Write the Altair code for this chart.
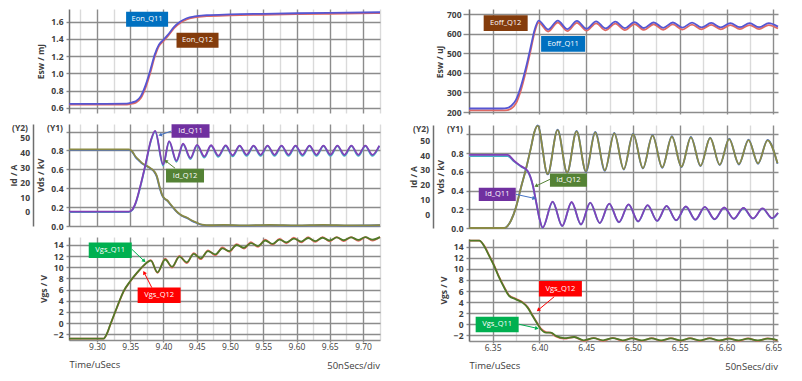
import math
import altair as alt
import pandas as pd

# ---------------- tick values ----------------
LEFT_TICKS = [9.275, 9.3, 9.325, 9.35, 9.375, 9.4, 9.425, 9.45, 9.475, 9.5, 9.525,
              9.55, 9.575, 9.6, 9.625, 9.65, 9.675, 9.7, 9.725]
RIGHT_TICKS = [6.325, 6.35, 6.375, 6.4, 6.425, 6.45, 6.475, 6.5, 6.525, 6.55, 6.575,
               6.6, 6.625, 6.65]
ESW_ON_TICKS = [0.6, 0.8, 1.0, 1.2, 1.4, 1.6]
ESW_OFF_TICKS = [200, 300, 400, 500, 600, 700]
VDS_TICKS = [0.0, 0.2, 0.4, 0.6, 0.8, 1.0]
ID_TICKS = [0, 10, 20, 30, 40, 50]
VGS_TICKS = [-2, 0, 2, 4, 6, 8, 10, 12, 14]

# ---------------- left: turn-on ----------------
EON_T = [9.258, 9.300, 9.345, 9.352, 9.359, 9.366, 9.373, 9.380, 9.387, 9.393, 9.400,
         9.408, 9.416, 9.425, 9.435, 9.447, 9.465, 9.500, 9.550, 9.600, 9.650, 9.7255]
EON_Q11 = [0.645, 0.645, 0.648, 0.660, 0.678, 0.735, 0.860, 1.030, 1.220, 1.330, 1.390,
           1.460, 1.540, 1.600, 1.640, 1.662, 1.675, 1.685, 1.692, 1.698, 1.703, 1.710]
EON_Q12 = [0.635, 0.635, 0.637, 0.646, 0.662, 0.712, 0.830, 1.000, 1.195, 1.315, 1.375,
           1.445, 1.525, 1.585, 1.627, 1.650, 1.664, 1.674, 1.681, 1.687, 1.692, 1.700]

VDS_L_T = [9.258, 9.348, 9.353, 9.358, 9.363, 9.368, 9.374, 9.381, 9.386, 9.390, 9.394,
           9.398, 9.402, 9.406, 9.410, 9.416, 9.422, 9.428, 9.435, 9.442, 9.450, 9.458,
           9.470, 9.490, 9.520, 9.560, 9.600, 9.640, 9.680, 9.7255]
VDS_L_Q11 = [0.810, 0.810, 0.790, 0.735, 0.700, 0.665, 0.640, 0.610, 0.580, 0.530, 0.420,
             0.330, 0.290, 0.270, 0.235, 0.185, 0.140, 0.110, 0.090, 0.060, 0.035, 0.015,
             0.008, 0.012, 0.006, 0.011, 0.006, 0.011, 0.006, 0.010]
VDS_L_Q12 = [0.805, 0.805, 0.785, 0.728, 0.693, 0.660, 0.636, 0.606, 0.574, 0.520, 0.410,
             0.324, 0.286, 0.265, 0.230, 0.180, 0.136, 0.106, 0.086, 0.057, 0.032, 0.013,
             0.006, 0.010, 0.004, 0.009, 0.004, 0.009, 0.004, 0.008]

ID_L_T = [9.258, 9.348, 9.353, 9.358, 9.366, 9.3735, 9.381, 9.3875,
          9.3995, 9.4085, 9.4195, 9.4295, 9.4405, 9.4505, 9.4615, 9.4715, 9.4825, 9.4935,
          9.5040, 9.5145, 9.5250, 9.5355, 9.5460, 9.5565, 9.5670, 9.5775, 9.5880, 9.5985,
          9.6090, 9.6195, 9.6300, 9.6405, 9.6510, 9.6615, 9.6720, 9.6825, 9.6930, 9.7035,
          9.7140, 9.7245]
ID_L_Q11 = [0.2, 0.2, 1.5, 6.0, 18.8, 33.0, 48.0, 54.5,
            32.0, 47.5, 34.5, 45.8, 36.3, 45.0, 37.3, 44.8, 37.8, 44.7,
            38.1, 44.6, 38.4, 44.6, 38.4, 44.6, 38.4, 44.6, 38.4, 44.6,
            38.4, 44.6, 38.4, 44.6, 38.4, 44.6, 38.4, 44.6, 38.4, 44.6,
            38.4, 44.6]
ID_L_Q12 = [0.0, 0.0, 1.2, 5.6, 18.3, 32.5, 47.5, 54.0,
            31.2, 47.1, 33.7, 45.4, 35.5, 44.6, 36.5, 44.4, 37.0, 44.3,
            37.3, 44.2, 37.6, 44.2, 37.6, 44.2, 37.6, 44.2, 37.6, 44.2,
            37.6, 44.2, 37.6, 44.2, 37.6, 44.2, 37.6, 44.2, 37.6, 44.2,
            37.6, 44.2]

VGS_L_T = [9.258, 9.310, 9.315, 9.320, 9.330, 9.340, 9.350, 9.360, 9.370,
           9.381, 9.391, 9.4025, 9.413, 9.424, 9.435, 9.4455, 9.456, 9.467, 9.478,
           9.4885, 9.499, 9.510, 9.521, 9.5315, 9.542, 9.553, 9.564, 9.5745, 9.585,
           9.596, 9.607, 9.6175, 9.628, 9.639, 9.650, 9.6605, 9.671, 9.682, 9.693,
           9.7035, 9.714, 9.7255]
VGS_L_Q11 = [-2.78, -2.78, -1.9, -0.3, 2.8, 5.7, 7.5, 9.0, 10.3,
             11.2, 9.1, 11.4, 10.1, 11.9, 10.9, 12.4, 11.6, 12.9, 12.3,
             13.4, 12.9, 14.0, 13.5, 14.35, 13.8, 14.8, 14.2, 14.95, 14.45,
             15.15, 14.6, 15.25, 14.7, 15.3, 14.8, 15.35, 14.85, 15.38, 14.9,
             15.4, 14.95, 15.4]
VGS_L_Q12 = [-2.8, -2.8, -1.95, -0.35, 2.75, 5.65, 7.45, 8.95, 10.25,
             11.3, 9.0, 11.55, 9.95, 12.05, 10.75, 12.55, 11.45, 13.05, 12.15,
             13.55, 12.75, 14.15, 13.35, 14.5, 13.65, 14.95, 14.05, 15.1, 14.3,
             15.3, 14.45, 15.4, 14.55, 15.4, 14.65, 15.42, 14.7, 15.42, 14.75,
             15.42, 14.8, 15.42]

# ---------------- right: turn-off ----------------
EOFF_T = [6.3247, 6.360, 6.366, 6.370, 6.3749, 6.3802, 6.3856, 6.391, 6.3945, 6.3991,
          6.4093, 6.4196, 6.4298, 6.4401, 6.4503, 6.4606, 6.4708, 6.4811, 6.4913, 6.5016,
          6.5118, 6.5221, 6.5323, 6.5426, 6.5528, 6.5631, 6.5733, 6.5836, 6.5938, 6.6041,
          6.6143, 6.6246, 6.6348, 6.6451, 6.655]
EOFF_Q11 = [218, 218, 221, 232, 262, 332, 428, 540, 615, 668,
            622, 668, 624, 666, 626, 664, 628, 662, 629, 660,
            630, 659, 631, 658, 632, 657, 633, 656, 633, 655,
            634, 655, 634, 655, 637]
EOFF_Q12 = [208, 208, 210, 218, 244, 312, 410, 524, 602, 658,
            612, 658, 614, 656, 616, 654, 618, 652, 619, 650,
            620, 649, 621, 648, 622, 647, 623, 646, 623, 645,
            624, 645, 624, 645, 627]

VDS_R_T = [6.3247, 6.3624, 6.3696, 6.3749, 6.3802, 6.3856, 6.391, 6.3945, 6.3981,
           6.4088, 6.4194, 6.4296, 6.4397, 6.4497, 6.4597, 6.4699, 6.4800, 6.4901, 6.5002,
           6.5106, 6.5209, 6.5313, 6.5416, 6.5518, 6.5619, 6.5722, 6.5825, 6.5927, 6.6028,
           6.6132, 6.6235, 6.6337, 6.6438, 6.6545]
VDS_R_Q11 = [0.0, 0.0, 0.08, 0.22, 0.43, 0.63, 0.86, 1.02, 1.09,
             0.576, 1.045, 0.593, 1.031, 0.604, 1.020, 0.615, 1.009, 0.629, 1.002,
             0.640, 0.985, 0.647, 0.974, 0.654, 0.967, 0.665, 0.960, 0.675, 0.949,
             0.682, 0.938, 0.690, 0.935, 0.690]
VDS_R_Q12 = [0.0, 0.0, 0.08, 0.22, 0.43, 0.63, 0.86, 1.02, 1.095,
             0.571, 1.050, 0.588, 1.036, 0.599, 1.025, 0.610, 1.014, 0.624, 1.007,
             0.635, 0.990, 0.642, 0.979, 0.649, 0.972, 0.660, 0.965, 0.670, 0.954,
             0.677, 0.943, 0.685, 0.940, 0.685]

ID_R_T = [6.3247, 6.366, 6.3731, 6.3802, 6.3874, 6.3927, 6.3963, 6.3998,
          6.4034, 6.4141, 6.4243, 6.4344, 6.4444, 6.4543, 6.4645, 6.4746, 6.4850, 6.4953,
          6.5055, 6.5156, 6.5258, 6.5359, 6.5462, 6.5565, 6.5667, 6.5768, 6.5872, 6.5975,
          6.6078, 6.6181, 6.6283, 6.6384, 6.6488, 6.655]
ID_R_Q11 = [40.1, 40.1, 36.0, 32.6, 29.3, 20.3, 9.0, -2.3,
            -9.0, 8.5, -7.9, 8.3, -6.8, 7.9, -5.9, 7.2, -5.3, 6.7,
            -4.8, 6.2, -4.4, 5.7, -4.0, 5.3, -3.6, 5.0, -3.3, 4.6,
            -3.0, 4.3, -2.8, 4.0, -2.6, 1.0]
ID_R_Q12 = [39.3, 39.3, 35.6, 32.3, 29.0, 20.0, 8.8, -2.4,
            -9.1, 8.3, -8.0, 8.1, -6.9, 7.7, -6.0, 7.0, -5.4, 6.5,
            -4.9, 6.0, -4.5, 5.5, -4.1, 5.1, -3.7, 4.8, -3.4, 4.4,
            -3.1, 4.1, -2.9, 3.8, -2.7, 0.8]

VGS_R_T = [6.3247, 6.3357, 6.341, 6.3464, 6.3517, 6.357, 6.3624, 6.3677, 6.3749, 6.382,
           6.3874, 6.3927, 6.3981, 6.4016, 6.4069, 6.4123, 6.4176, 6.4265, 6.4372,
           6.4475, 6.458, 6.468, 6.4785, 6.489, 6.499, 6.5095, 6.52, 6.530, 6.5405,
           6.551, 6.561, 6.5715, 6.582, 6.592, 6.6025, 6.613, 6.623, 6.6335, 6.644, 6.6545]
VGS_R_Q11 = [15.1, 15.1, 14.1, 12.3, 10.5, 8.4, 6.6, 5.1, 4.5, 3.9,
             3.0, 1.5, 0.0, -0.9, -1.5, -1.5, -2.1, -2.5, -2.3,
             -2.9, -2.5, -2.9, -2.5, -2.9, -2.55, -2.9, -2.55, -2.9, -2.55,
             -2.9, -2.55, -2.9, -2.55, -2.9, -2.6, -2.9, -2.6, -2.9, -2.6, -2.85]
VGS_R_Q12 = [15.1, 15.1, 14.15, 12.4, 10.6, 8.5, 6.7, 5.2, 4.6, 4.0,
             3.1, 1.6, 0.1, -0.8, -1.4, -1.55, -2.2, -2.6, -2.3,
             -3.0, -2.45, -3.0, -2.45, -3.0, -2.5, -3.0, -2.5, -3.0, -2.5,
             -3.0, -2.5, -3.0, -2.5, -3.0, -2.55, -3.0, -2.55, -3.0, -2.55, -2.95]

# ---------------- annotation labels ----------------
LT_NAMES = ["Eon_Q11", "Eon_Q12"]
LT_T = [9.3754, 9.4512]
LT_V = [1.628, 1.385]
LT_FILL = ["#0070c0", "#843c0c"]

LM_NAMES = ["Id_Q11", "Id_Q12"]
LM_T = [9.4407, 9.4324]
LM_V = [1.005, 0.534]
LM_FILL = ["#7030a0", "#548235"]
LM_AR = dict(t1=[9.412, 9.4175], v1=[1.005, 0.611], t2=[9.395, 9.4035], v2=[0.963, 0.688],
             c=["#4472c4", "#548235"])

LB_NAMES = ["Vgs_Q11", "Vgs_Q12"]
LB_T = [9.320, 9.3935]
LB_V = [13.07, 5.0]
LB_FILL = ["#00b050", "#ff0000"]
LB_AR = dict(t1=[9.3525, 9.3825], v1=[13.23, 6.35], t2=[9.371, 9.371], v2=[11.13, 9.04],
             c=["#00b050", "#ff0000"])

RT_NAMES = ["Eoff_Q12", "Eoff_Q11"]
RT_T = [6.3639, 6.4253]
RT_V = [654.5, 549.0]
RT_FILL = ["#843c0c", "#0070c0"]

RM_NAMES = ["Id_Q12", "Id_Q11"]
RM_T = [6.431, 6.3549]
RM_V = [0.51, 0.359]
RM_FILL = ["#548235", "#7030a0"]
RM_AR = dict(t1=[6.4112, 6.3749], v1=[0.519, 0.359], t2=[6.3963, 6.3944], v2=[0.448, 0.317],
             c=["#548235", "#4472c4"])

RB_NAMES = ["Vgs_Q12", "Vgs_Q11"]
RB_T = [6.4224, 6.3548]
RB_V = [6.4, -0.04]
RB_FILL = ["#ff0000", "#00b050"]
RB_AR = dict(t1=[6.4158, 6.3784], v1=[4.97, 0.0], t2=[6.3987, 6.3973], v2=[2.57, -0.73],
             c=["#ff0000", "#00b050"])

# ---------------- styling / geometry ----------------
FONT = "Open Sans"
TXT = "#404040"
GRID_D = "#8c8c8c"
GRID_L = "#dadada"
BOX = "M-1,-0.36L1,-0.36L1,0.36L-1,0.36Z"
MAJOR = "round(datum.value*1000) % 50 == 0"

LW, RW = 311, 309
L_DOM = [9.258, 9.7255]
R_DOM = [6.3247, 6.655]
LH = [104, 102, 103]
RH = [105, 103, 102]
LT_DOM = [0.5384, 1.7477]
LM_Y1 = [0.0, 1.0794]
LM_Y2 = [-9.40, 59.06]
LB_DOM = [-3.03, 15.43]
RT_DOM = [189.8, 727.1]
RM_Y1 = [0.0, 1.0987]
RM_Y2 = [-9.26, 60.34]
RB_DOM = [-3.02, 15.39]

C_BLUE = "#5656d2"
C_RED = "#e06a64"
C_PURPLE = "#8040b8"
C_TEAL = "#44b0c4"
C_OLIVE = "#8a8a45"
C_VBLUE = "#4a6fd0"
C_GREEN = "#4f7a28"
C_VRED = "#f06a6a"


def x_axis(ticks, bottom):
    kw = dict(values=ticks, grid=True,
              gridColor={"condition": {"test": MAJOR, "value": GRID_D}, "value": GRID_L},
              gridWidth=1.4, labelFont=FONT, labelFontSize=8.5, labelColor=TXT,
              labelOverlap=False)
    if bottom:
        kw.update(title="Time/uSecs", titleAnchor="start", titleAlign="left",
                  titleFont=FONT, titleFontSize=9.5, titleFontWeight="normal",
                  titleColor=TXT, titlePadding=9,
                  labelExpr=MAJOR + " ? format(datum.value, '.2f') : ''",
                  labelPadding=0, ticks=True, tickSize=2, tickWidth=1.4,
                  tickColor={"condition": {"test": MAJOR, "value": GRID_D},
                             "value": "rgba(0,0,0,0)"},
                  domain=True, domainColor=GRID_D, domainWidth=1.4)
    else:
        kw.update(title=None, labels=False, domain=False, ticks=False)
    return alt.Axis(**kw)


def y_axis(values, title, fmt=None, label_expr=None, tick_size=3, label_pad=3,
           title_pad=5, grid=True, offset=0, ticks=True):
    kw = dict(values=values, title=title, grid=grid, orient="left",
              domain=True, domainColor="#6e6e6e", domainWidth=1.5,
              labelFont=FONT, labelFontSize=8.5, labelFontWeight="bold",
              labelColor=TXT, labelPadding=label_pad, labelOverlap=False,
              titleFont=FONT, titleFontSize=8.5, titleFontWeight="bold",
              titleColor=TXT, titlePadding=title_pad)
    if grid:
        kw.update(gridColor=GRID_D, gridWidth=1.4)
    if ticks:
        kw.update(ticks=True, tickSize=tick_size, tickColor=GRID_D, tickWidth=1.4)
    else:
        kw.update(ticks=False)
    if fmt:
        kw["format"] = fmt
    if label_expr:
        kw["labelExpr"] = label_expr
    if offset:
        kw["offset"] = offset
    return alt.Axis(**kw)


def X(dom, ax):
    return alt.X("t:Q", scale=alt.Scale(domain=dom, nice=False, zero=False), axis=ax)


def Y(dom, ax):
    return alt.Y("v:Q", scale=alt.Scale(domain=dom, nice=False, zero=False), axis=ax)


def series(ts, vs, color, xe, ye, w=1.8):
    return alt.Chart(pd.DataFrame({"t": ts, "v": vs})).mark_line(
        color=color, strokeWidth=w, interpolate="monotone").encode(x=xe, y=ye)


def labels(names, ts, vs, fills, xe, ye, box_w):
    d = pd.DataFrame({"t": ts, "v": vs, "name": names, "fill": fills})
    box = alt.Chart(d).mark_point(shape=BOX, filled=True, opacity=1, size=box_w ** 2).encode(
        x=xe, y=ye, color=alt.Color("fill:N", scale=None))
    txt = alt.Chart(d).mark_text(color="white", fontSize=7.5, font=FONT,
                                 align="center", baseline="middle").encode(
        x=xe, y=ye, text="name:N")
    return [box, txt]


def arrows(ar, xe, ye, sx, sy):
    d = pd.DataFrame({"t": ar["t1"], "v": ar["v1"], "t2": ar["t2"], "v2": ar["v2"], "c": ar["c"]})
    rule = alt.Chart(d).mark_rule(strokeWidth=1).encode(
        x=xe, y=ye, x2="t2:Q", y2="v2:Q", color=alt.Color("c:N", scale=None))
    angs = [(math.degrees(math.atan2((b - a) * sx, (q - p) * sy)) + 360) % 360
            for a, b, p, q in zip(ar["t1"], ar["t2"], ar["v1"], ar["v2"])]
    h = pd.DataFrame({"t": ar["t2"], "v": ar["v2"], "ang": angs, "c": ar["c"]})
    head = alt.Chart(h).mark_point(shape="triangle-up", filled=True, size=18, opacity=1).encode(
        x=xe, y=ye, angle=alt.Angle("ang:Q", scale=None), color=alt.Color("c:N", scale=None))
    return [rule, head]


def tag(text, xpx, ypx, align="right", baseline="top", size=8.5, weight="bold"):
    return alt.Chart(pd.DataFrame({"s": [text]})).mark_text(
        align=align, baseline=baseline, fontSize=size, fontWeight=weight,
        color=TXT, font=FONT).encode(x=alt.value(xpx), y=alt.value(ypx), text="s:N")


# ---------------- left column ----------------
xa = X(L_DOM, x_axis(LEFT_TICKS, False))
ya = Y(LT_DOM, y_axis(ESW_ON_TICKS, "Esw / mJ", fmt=".1f"))
left_top = alt.layer(
    series(EON_T, EON_Q12, C_RED, xa, ya),
    series(EON_T, EON_Q11, C_BLUE, xa, ya),
    *labels(LT_NAMES, LT_T, LT_V, LT_FILL, xa, ya, 42),
).properties(width=LW, height=LH[0])

y1 = Y(LM_Y1, y_axis(VDS_TICKS, "Vds / kV",
                     label_expr="datum.value > 0.9 ? '' : format(datum.value, '.1f')"))
y2 = Y(LM_Y2, y_axis(ID_TICKS, "Id / A", fmt="d", grid=False, ticks=False, offset=36,
                     label_pad=3.5, title_pad=1.5))
yl = Y(LM_Y1, None)
sx = LW / (L_DOM[1] - L_DOM[0])
sy = LH[1] / (LM_Y1[1] - LM_Y1[0])
left_mid = alt.layer(
    alt.layer(series(VDS_L_T, VDS_L_Q12, C_VBLUE, xa, y1),
              series(VDS_L_T, VDS_L_Q11, C_OLIVE, xa, y1)),
    alt.layer(series(ID_L_T, ID_L_Q12, C_TEAL, xa, y2),
              series(ID_L_T, ID_L_Q11, C_PURPLE, xa, y2)),
    alt.layer(*arrows(LM_AR, xa, yl, sx, sy),
              *labels(LM_NAMES, LM_T, LM_V, LM_FILL, xa, yl, 38),
              tag("(Y1)", -6, 0), tag("(Y2)", -41, 0)),
).resolve_scale(y="independent").properties(width=LW, height=LH[1])

xb = X(L_DOM, x_axis(LEFT_TICKS, True))
ya = Y(LB_DOM, y_axis(VGS_TICKS, "Vgs / V", fmt="d"))
sy = LH[2] / (LB_DOM[1] - LB_DOM[0])
left_bot = alt.layer(
    series(VGS_L_T, VGS_L_Q12, C_VRED, xb, ya),
    series(VGS_L_T, VGS_L_Q11, C_GREEN, xb, ya),
    *arrows(LB_AR, xb, ya, sx, sy),
    *labels(LB_NAMES, LB_T, LB_V, LB_FILL, xb, ya, 43),
    tag("50nSecs/div", LW, LH[2] + 26, align="right", baseline="middle", size=9.5,
        weight="normal"),
).properties(width=LW, height=LH[2])

# ---------------- right column ----------------
xa = X(R_DOM, x_axis(RIGHT_TICKS, False))
ya = Y(RT_DOM, y_axis(ESW_OFF_TICKS, "Esw / uJ", fmt="d", tick_size=6, label_pad=2,
                      title_pad=2))
right_top = alt.layer(
    series(EOFF_T, EOFF_Q12, C_RED, xa, ya),
    series(EOFF_T, EOFF_Q11, C_BLUE, xa, ya),
    *labels(RT_NAMES, RT_T, RT_V, RT_FILL, xa, ya, 44),
).properties(width=RW, height=RH[0])

y1 = Y(RM_Y1, y_axis(VDS_TICKS, "Vds / kV",
                     label_expr="datum.value > 0.9 ? '' : format(datum.value, '.1f')"))
y2 = Y(RM_Y2, y_axis(ID_TICKS, "Id / A", fmt="d", grid=False, ticks=False, offset=36,
                     label_pad=3.5, title_pad=1.5))
yl = Y(RM_Y1, None)
sx = RW / (R_DOM[1] - R_DOM[0])
sy = RH[1] / (RM_Y1[1] - RM_Y1[0])
right_mid = alt.layer(
    alt.layer(series(VDS_R_T, VDS_R_Q12, C_VBLUE, xa, y1),
              series(VDS_R_T, VDS_R_Q11, C_OLIVE, xa, y1)),
    alt.layer(series(ID_R_T, ID_R_Q12, C_TEAL, xa, y2),
              series(ID_R_T, ID_R_Q11, C_PURPLE, xa, y2)),
    alt.layer(*arrows(RM_AR, xa, yl, sx, sy),
              *labels(RM_NAMES, RM_T, RM_V, RM_FILL, xa, yl, 37),
              tag("(Y1)", -6, 0), tag("(Y2)", -40, 0)),
).resolve_scale(y="independent").properties(width=RW, height=RH[1])

xb = X(R_DOM, x_axis(RIGHT_TICKS, True))
ya = Y(RB_DOM, y_axis(VGS_TICKS, "Vgs / V", fmt="d"))
sy = RH[2] / (RB_DOM[1] - RB_DOM[0])
right_bot = alt.layer(
    series(VGS_R_T, VGS_R_Q12, C_VRED, xb, ya),
    series(VGS_R_T, VGS_R_Q11, C_GREEN, xb, ya),
    *arrows(RB_AR, xb, ya, sx, sy),
    *labels(RB_NAMES, RB_T, RB_V, RB_FILL, xb, ya, 43),
    tag("50nSecs/div", RW, RH[2] + 26, align="right", baseline="middle", size=9.5,
        weight="normal"),
).properties(width=RW, height=RH[2])

left_col = alt.vconcat(left_top, left_mid, left_bot, spacing=11, bounds="flush")
right_col = alt.vconcat(right_top, right_mid, right_bot, spacing=11, bounds="flush")

chart = alt.hconcat(left_col, right_col, spacing=23).properties(
    padding={"left": 0, "top": 0, "right": 0, "bottom": 0},
    background="white",
).configure_view(stroke="transparent")

chart.save("out.html", embed_options={"renderer": "svg", "actions": False})
